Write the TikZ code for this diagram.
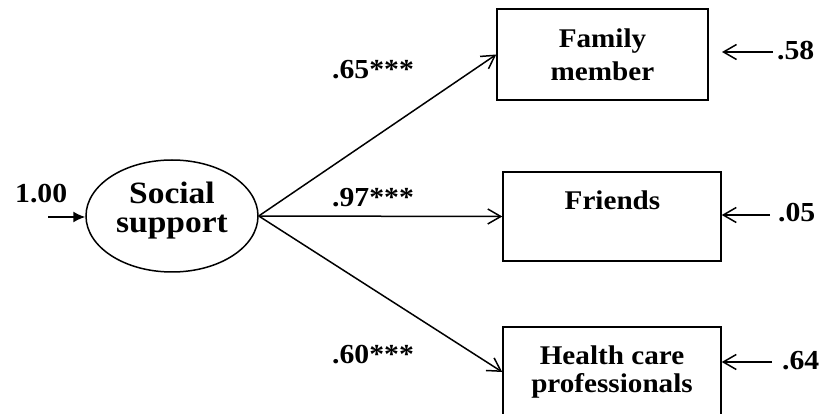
\documentclass[tikz,border=0pt]{standalone}
\usepackage{fontspec}
\setmainfont{Liberation Serif}[FakeStretch=1.08]
\usetikzlibrary{arrows.meta,shapes.geometric}
\tikzset{
  obsbox/.style={draw, rectangle, line width=1.5pt, inner sep=0pt, align=center},
  boxfont/.style={font=\bfseries\fontsize{27}{#1}\selectfont},
  latent/.style={draw, ellipse, line width=1.5pt, inner sep=0pt, minimum width=172pt, minimum height=112pt},
  lbl/.style={font=\bfseries\fontsize{27.5}{30}\selectfont, inner sep=0pt, anchor=base west},
  path/.style={line width=1.5pt, -{Straight Barb[length=13pt,width=15pt]}},
  inarrow/.style={line width=1.5pt, -{Latex[length=12pt,width=11pt]}}
}
\begin{document}
\begin{tikzpicture}[x=1pt,y=-1pt]
\useasboundingbox (0,0) rectangle (823,414);
\clip (0,0) rectangle (823,414);

% latent variable
\node[latent] (ss) at (172,216) {};
\node[font=\bfseries\fontsize{31}{29}\selectfont, align=center, inner sep=0pt] (sst) at (172,210.5) {Social\\support};

% observed boxes
\node[obsbox, boxfont=33, minimum width=211pt, minimum height=91pt] (fam) at (602.5,54.5) {Family\\member};
\node[obsbox, minimum width=218pt, minimum height=89pt] (fr) at (612,216.5) {};
\node[boxfont=30, inner sep=0pt] (frt) at (612.5,199.8) {Friends};
\node[obsbox, boxfont=28, minimum width=218pt, minimum height=90pt] (hc) at (612,372) {Health care\\professionals};

% loadings
\draw[path] (ss.east) -- (fam.west);
\draw[path] (ss.east) -- (fr.west);
\draw[path] (ss.east) -- (hc.west);
\node[lbl] (l65) at (332,79) {.65***};
\node[lbl] (l97) at (332,207) {.97***};
\node[lbl] (l60) at (332,363) {.60***};

% input to latent
\node[lbl] (l100) at (15,203) {1.00};
\coordinate (s0) at (48,217);
\draw[inarrow] (s0) -- (s0 -| ss.west);

% error terms
\node[lbl] (l58) at (777,60) {.58};
\node[lbl] (l05) at (778,222) {.05};
\node[lbl] (l64) at (782,370) {.64};
\coordinate (e1) at (773,52);
\coordinate (e1t) at (722,52);
\coordinate (e2) at (770,215);
\coordinate (e3) at (772,362);
\draw[path] (e1) -- (e1t);
\draw[path] (e2) -- (e2 -| fr.east);
\draw[path] (e3) -- (e3 -| hc.east);
\end{tikzpicture}
\end{document}
